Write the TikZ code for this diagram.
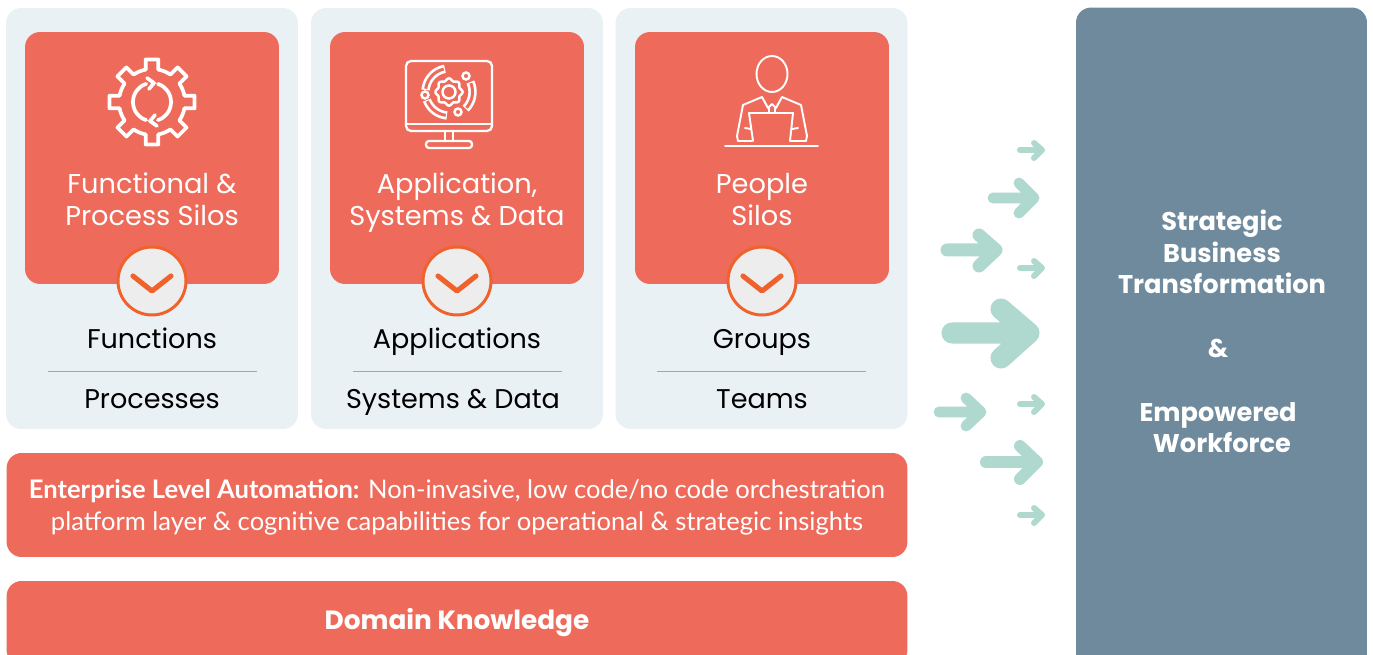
\documentclass[tikz,border=0pt]{standalone}
\usepackage{fontspec}
\usetikzlibrary{shapes.geometric}
\setmainfont{Poppins}
\newfontfamily\barfont{Lato}
\definecolor{panelbg}{HTML}{E9F1F4}
\definecolor{silored}{HTML}{EE6B5B}
\definecolor{sideblue}{HTML}{6F8A9C}
\definecolor{arrowgreen}{HTML}{AFD8CE}
\definecolor{chevorange}{HTML}{F0622B}
\definecolor{rulegray}{HTML}{A3A7AB}
\begin{document}
\begin{tikzpicture}[x=0.02cm,y=-0.02cm,
    panel/.style={fill=panelbg,rounded corners=0.3cm,minimum width=5.84cm,minimum height=8.42cm,inner sep=0pt},
    silo/.style={fill=silored,rounded corners=0.3cm,minimum width=5.08cm,minimum height=5.04cm,inner sep=0pt},
    bar/.style={fill=silored,rounded corners=0.3cm,minimum width=18.02cm,inner sep=0pt},
    roundbtn/.style={circle,draw=chevorange,line width=1.7pt,fill=black!7,minimum size=1.36cm,inner sep=0pt},
    chev/.style={chevorange,line width=2.9pt,line cap=round,line join=round},
    icon/.style={white,line join=round,line cap=round},
    silotext/.style={white,align=center,text depth=5pt,font=\fontsize{15.5}{18.2}\selectfont},
    itemtext/.style={black,text depth=5pt,font=\fontsize{15.4}{18}\selectfont},
    divider/.style={rulegray,line width=0.5pt},
    flow/.style={arrowgreen,line cap=round,line join=round}]
  \clip (0,0) rectangle (1373,655);

  %% Panels
  \node [panel] (panelA) at (152,218.5) {};
  \node [panel] (panelB) at (457,218.5) {};
  \node [panel] (panelC) at (761.5,218.5) {};

  \node [silo] (siloA) at (152,158) {};
  \node [silo] (siloB) at (457,158) {};
  \node [silo] (siloC) at (762,158) {};

  \node [silotext] (titleA) at (152,204) {Functional \&\\Process Silos};
  \node [silotext] (titleB) at (457,204) {Application,\\Systems \& Data};
  \node [silotext] (titleC) at (762,204) {People\\Silos};

  %% Round buttons
  \node [roundbtn] (roundA) at (152,281) {};
  \node [roundbtn] (roundB) at (457,281) {};
  \node [roundbtn] (roundC) at (762,281) {};
  \draw [chev] (133,276) -- (152,291) -- (171,276);
  \draw [chev] (438,276) -- (457,291) -- (476,276);
  \draw [chev] (743,276) -- (762,291) -- (781,276);

  %% Lists
  \node [itemtext] (itemAa) at (152,343) {Functions};
  \node [itemtext] (itemAb) at (152,403) {Processes};
  \node [itemtext] (itemBa) at (457,343) {Applications};
  \node [itemtext] (itemBb) at (453,403) {Systems \& Data};
  \node [itemtext] (itemCa) at (762,343) {Groups};
  \node [itemtext] (itemCb) at (762,403) {Teams};
  \draw [divider] (48,371.5) -- (257,371.5);
  \draw [divider] (353,371.5) -- (562,371.5);
  \draw [divider] (657,371.5) -- (866,371.5);

  %% Bars
  \node [bar,minimum height=2.08cm] (autoBar) at (457,505) {};
  \node [white,align=center,font=\barfont\fontsize{14.55}{18.3}\selectfont] (autoText) at (457,507)
    {\textbf{Enterprise Level Automation:} Non-invasive, low code/no code orchestration\\platform layer \& cognitive capabilities for operational \& strategic insights};
  \node [bar,minimum height=1.68cm] (domainBar) at (457,623) {};
  \node [white,text depth=5pt,font=\bfseries\fontsize{15}{18}\selectfont] (domainText) at (457,623) {Domain Knowledge};

  %% Right column
  \node [fill=sideblue,rounded corners=0.3cm,minimum width=5.82cm,minimum height=13.3cm,inner sep=0pt] (sideBox) at (1221.5,340) {};
  \node [white,align=center,font=\bfseries\fontsize{14.6}{18.1}\selectfont] (sideText) at (1222,331.5)
    {Strategic\\Business\\Transformation\\[18.1pt]\hspace*{-4.5pt}\&\\[18.1pt]\hspace*{-4.5pt}Empowered\\Workforce};

  %% Flow arrows
  \draw [flow,line width=3.4pt] (1020,150) -- (1042,150) (1034,143) -- (1042,150) -- (1034,158);
  \draw [flow,line width=6.2pt] (993,198) -- (1034,198) (1019,183) -- (1034,198) -- (1019,213);
  \draw [flow,line width=7.4pt] (947,250) -- (996,250) (979,235) -- (996,250) -- (979,266);
  \draw [flow,line width=3.4pt] (1020,268) -- (1042,268) (1034,261) -- (1042,268) -- (1034,276);
  \draw [flow,line width=12pt] (952,333) -- (1029,333) (1001,309) -- (1029,333) -- (1001,358);
  \draw [flow,line width=3.4pt] (1020,404) -- (1042,404) (1034,397) -- (1042,404) -- (1034,412);
  \draw [flow,line width=6.2pt] (939,412) -- (981,412) (966,398) -- (981,412) -- (966,426);
  \draw [flow,line width=6.8pt] (986,462) -- (1037,462) (1020,446) -- (1037,462) -- (1020,479);
  \draw [flow,line width=3.4pt] (1020,515) -- (1042,515) (1034,508) -- (1042,515) -- (1034,523);

  %% Gear icon
  \begin{scope}[shift={(152,102)}]
    \foreach \t in {0,45,...,315} {
      \draw [icon,line width=2.1pt] (\t-11:33) -- (\t-8.5:43) -- (\t+8.5:43) -- (\t+11:33);
      \draw [icon,line width=2.1pt] plot[smooth,domain=\t+11:\t+34] ({33*cos(\x)},{33*sin(\x)});
    }
    \draw [icon,line width=2.1pt] plot[smooth,domain=-72:72] ({19*cos(\x)},{19*sin(\x)});
    \draw [icon,line width=2.1pt] plot[smooth,domain=108:252] ({19*cos(\x)},{19*sin(\x)});
    \draw [icon,line width=2.1pt] (-5,-24) -- (2,-19) -- (-3,-13);
    \draw [icon,line width=2.1pt] (5,24) -- (-2,19) -- (3,13);
  \end{scope}

  %% Monitor icon
  \node [draw=white,line width=1.3pt,rounded corners=0.1cm,minimum width=1.72cm,minimum height=1.4cm,inner sep=0pt] (screen) at (449,96) {};
  \draw [icon,line width=1.3pt] (406,124) -- (492,124);
  \draw [icon,line width=1.3pt] (445,131) -- (445,141) (453,131) -- (453,141);
  \node [draw=white,line width=1.3pt,rounded corners=0.06cm,minimum width=0.92cm,minimum height=0.14cm,inner sep=0pt] (stand) at (449,144.5) {};
  \begin{scope}[shift={(449,92)}]
    \node [circle,draw=white,line width=1.4pt,minimum size=0.26cm,inner sep=0pt] (hub) at (0,0) {};
    \draw [icon,line width=1.4pt] plot[smooth cycle,samples=49,domain=0:352.5] ({(12.5+1.2*cos(8*\x))*cos(\x)},{(12.5+1.2*cos(8*\x))*sin(\x)});
    \draw [white,line width=4.8pt] plot[smooth,domain=-175:-100] ({23.5*cos(\x)},{23.5*sin(\x)});
    \draw [white,line width=4.8pt] plot[smooth,domain=-25:45] ({23.5*cos(\x)},{23.5*sin(\x)});
    \draw [white,line width=4.8pt] plot[smooth,domain=95:160] ({23.5*cos(\x)},{23.5*sin(\x)});
    \draw [silored,line width=1.7pt] plot[smooth,domain=-172:-103] ({23.5*cos(\x)},{23.5*sin(\x)});
    \draw [silored,line width=1.7pt] plot[smooth,domain=-22:42] ({23.5*cos(\x)},{23.5*sin(\x)});
    \draw [silored,line width=1.7pt] plot[smooth,domain=98:157] ({23.5*cos(\x)},{23.5*sin(\x)});
    \node [circle,draw=white,line width=1.4pt,minimum size=0.14cm,inner sep=0pt] (dotA) at (17,-16) {};
    \node [circle,draw=white,line width=1.4pt,minimum size=0.14cm,inner sep=0pt] (dotB) at (-24,3) {};
    \node [circle,draw=white,line width=1.4pt,minimum size=0.14cm,inner sep=0pt] (dotC) at (9,20) {};
  \end{scope}

  %% Person icon
  \node [ellipse,draw=white,line width=1.1pt,minimum width=0.62cm,minimum height=0.72cm,inner sep=0pt] (head) at (772,74) {};
  \draw [icon,line width=1.1pt] (752,141) -- (738,141) -- (737,136) -- (743,105) -- (762,97) -- (768,108) -- (772,104) -- (776,108) -- (782,97) -- (801,105) -- (807,136) -- (806,141) -- (790,141);
  \draw [icon,line width=1.1pt] (769,107) -- (769,113) (775,107) -- (775,113);
  \draw [icon,line width=1.1pt] (753,141) -- (749,113) -- (793,113) -- (790,141);
  \draw [icon,line width=1.1pt] (745,128) -- (751,129) (792,129) -- (798,128);
  \draw [icon,line width=1.1pt] (725,146) -- (818,146);
\end{tikzpicture}
\end{document}
